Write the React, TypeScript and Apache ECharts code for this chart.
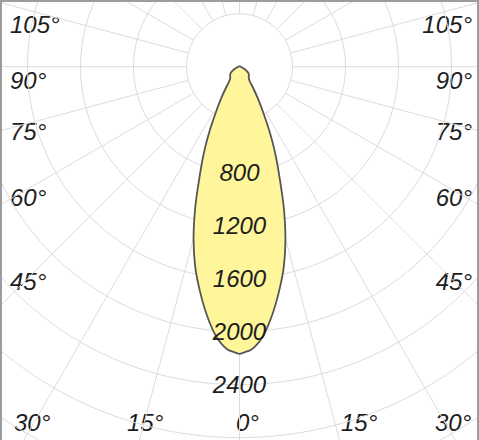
import React, { useEffect, useRef } from "react";
import * as echarts from "echarts";

// Photometric curve (one half, mirrored): angle from nadir (deg) and intensity (cd)
const ANGLES = [0, 2.5, 5, 7.5, 10, 12.5, 15, 17.5, 20, 22.5, 25, 27.5, 30, 32.5, 35, 40, 45, 50, 55, 60, 65, 70, 80, 90, 120, 180];
const CANDELA = [2168, 2135, 2040, 1890, 1720, 1545, 1340, 1110, 880, 700, 530, 385, 280, 195, 135, 108, 100, 92, 80, 62, 42, 25, 14, 10, 5, 3];

// Radius tick labels that are shown
const RADIUS_LABELS = [800, 1200, 1600, 2000, 2400];
// Angle labels along the frame
const SIDE_LABELS = ["105°", "90°", "75°", "60°", "45°"];
const BOTTOM_LABELS = ["30°", "15°", "0°", "15°", "30°"];

const FONT = "'Liberation Sans', Arial, sans-serif";

export default function App() {
  const ref = useRef<HTMLDivElement>(null);

  useEffect(() => {
    document.body.style.margin = "0";
    if (!ref.current) return;
    const chart = echarts.init(ref.current, undefined, { renderer: "svg" });

    const left = ANGLES.map((a, i) => [CANDELA[i], a]);
    const right = ANGLES.map((a, i) => [CANDELA[i], 360 - a]).reverse();
    const outline = left.concat(right);

    const center = [239.5, 66.7];
    const radius = [53, 477];

    const sideY = [24, 80, 131, 197, 281];
    const bottomX = [14, 127, 236, 341, 435];

    const textStyle = {
      fontFamily: FONT,
      fontStyle: "italic",
      fontSize: 24,
      fill: "#1e1e1e",
    };

    const graphic: any[] = [];
    SIDE_LABELS.forEach((t, i) => {
      graphic.push({
        type: "text",
        x: 10,
        y: sideY[i],
        style: { ...textStyle, text: t, align: "left", verticalAlign: "middle" },
      });
      graphic.push({
        type: "text",
        x: 472,
        y: sideY[i],
        style: { ...textStyle, text: t, align: "right", verticalAlign: "middle" },
      });
    });
    BOTTOM_LABELS.forEach((t, i) => {
      graphic.push({
        type: "text",
        x: bottomX[i],
        y: 422,
        style: { ...textStyle, text: t, align: "left", verticalAlign: "middle" },
      });
    });
    graphic.push({
      type: "rect",
      z: 100,
      shape: { x: 1, y: 1, width: 477, height: 470 },
      style: { fill: "none", stroke: "#9c9c9c", lineWidth: 2 },
    });

    chart.setOption({
      animation: false,
      backgroundColor: "#ffffff",
      polar: [
        { center, radius },
        { center, radius },
      ],
      angleAxis: [
        {
          polarIndex: 0,
          type: "value",
          min: 0,
          max: 360,
          interval: 15,
          startAngle: 270,
          clockwise: true,
          axisLine: { show: false },
          axisTick: { show: false },
          axisLabel: { show: false },
          splitLine: { show: true, lineStyle: { color: "#dcdcdc", width: 1 } },
        },
        {
          polarIndex: 1,
          type: "value",
          min: 0,
          max: 360,
          interval: 15,
          startAngle: 270,
          clockwise: true,
          axisLine: { show: false },
          axisTick: { show: false },
          axisLabel: { show: false },
          splitLine: { show: false },
        },
      ],
      radiusAxis: [
        {
          polarIndex: 0,
          type: "value",
          min: 400,
          max: 3600,
          interval: 400,
          axisLine: { show: false },
          axisTick: { show: false },
          axisLabel: { show: false },
          splitLine: { show: true, lineStyle: { color: "#dcdcdc", width: 1 } },
        },
        {
          polarIndex: 1,
          type: "value",
          min: 400,
          max: 3600,
          interval: 400,
          z: 10,
          axisLine: { show: false },
          axisTick: { show: false },
          splitLine: { show: false },
          axisLabel: {
            show: true,
            margin: 0,
            align: "center",
            verticalAlign: "middle",
            padding: [9, 0, 0, 0],
            fontFamily: FONT,
            fontStyle: "italic",
            fontSize: 24,
            color: "#1e1e1e",
            formatter: (v: number) => (RADIUS_LABELS.indexOf(v) >= 0 ? String(v) : ""),
          },
        },
      ],
      series: [
        {
          type: "custom",
          coordinateSystem: "polar",
          polarIndex: 0,
          z: 2,
          data: outline,
          renderItem: (params: any, api: any) => {
            if (params.dataIndex !== 0) return null;
            const pts = outline.map((d) => api.coord(d));
            return {
              type: "polygon",
              shape: { points: pts, smooth: 0.25 },
              style: { fill: "#fff59b", stroke: "#565656", lineWidth: 1.8, lineJoin: "round" },
            };
          },
        },
      ],
      graphic,
    });

    return () => chart.dispose();
  }, []);

  return <div ref={ref} style={{ width: 479, height: 440 }} />;
}
